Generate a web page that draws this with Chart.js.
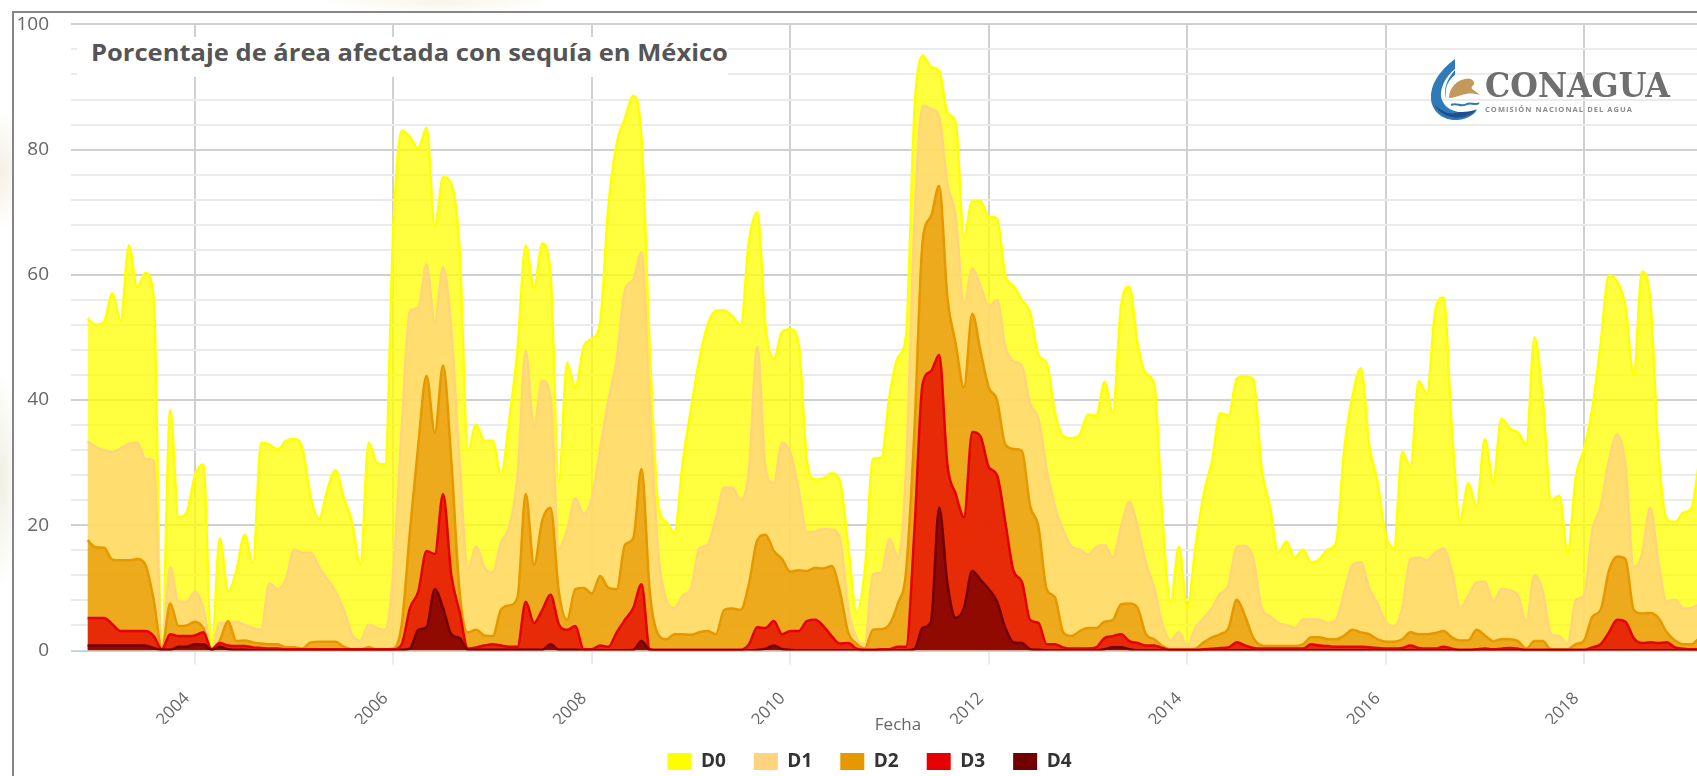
<!DOCTYPE html>
<html lang="es">
<head>
<meta charset="utf-8">
<title>Porcentaje de área afectada con sequía en México</title>
<script src="https://cdn.jsdelivr.net/npm/chart.js@4"></script>
<style>
  html, body { margin: 0; width: 1697px; height: 776px; overflow: hidden; background: #fff; }
  #fondo { position: absolute; inset: 0; background:
    radial-gradient(ellipse 30px 60px at 0 170px, #f3f0e4 0, #fff0 100%),
    radial-gradient(ellipse 24px 110px at 0 480px, #f0efe4 0, #fff0 100%),
    radial-gradient(ellipse 120px 12px at 440px 2px, #f8f5ea 0, #fff0 100%); }
  #marco { position: absolute; left: 12px; top: 11px; width: 1800px; height: 900px; border: 2px solid #868686; background: #fff; }
  #grafica { position: absolute; left: 14px; top: 13px; }
  #titulo { position: absolute; left: 77px; top: 37px; width: 651px; height: 40px; background: #fff; overflow: hidden; }
  #titulo span { display: inline-block; transform: scaleX(1.135); transform-origin: 14px 0; padding-left: 14px;
    font: bold 22.5px/32px "Open Sans", sans-serif; color: #555; white-space: nowrap; }
  #logo { position: absolute; left: 1425px; top: 55px; }
</style>
</head>
<body>
<div id="fondo"></div>
<div id="marco"></div>
<canvas id="grafica" width="1730" height="780"></canvas>
<div id="titulo"><span>Porcentaje de área afectada con sequía en México</span></div>
<svg id="logo" width="260" height="70" viewBox="0 0 260 70">
  <path d="M30 4 C14 16 5 30 6 44 C7 58 20 66 33 65 C42 64 49 60 52 55 C40 60 22 58 17 45 C13 34 22 20 30 14 Z" fill="#2f7ab8"/>
  <path d="M30 15 C22 24 18 34 21 44 C19 30 25 24 30 20 Z" fill="#2f7ab8"/>
  <path d="M10 50 C16 64 40 68 52 54 C44 58 36 56 30 58 C24 60 16 56 10 50 Z" fill="#1f4f8f"/>
  <path d="M24 43 C24 32 33 25 40 24 C45 22 50 26 49 29 C48 31 46 31 47 34 C50 36 53 38 55 40 C49 38 42 38 37 40 C32 41 28 43 24 43 Z" fill="#c4975a"/>
  <path d="M26 50 C32 47 36 53 42 49 C46 47 50 51 54 48" stroke="#2f7ab8" stroke-width="2" fill="none"/>
  <text x="60" y="42" font-family="'DejaVu Serif', serif" font-weight="bold" font-size="34" fill="#6f6f6f" textLength="185" lengthAdjust="spacingAndGlyphs">CONAGUA</text>
  <text x="60" y="57" font-family="'Open Sans', sans-serif" font-weight="bold" font-size="7.5" fill="#8a8a8a" textLength="147">COMISIÓN NACIONAL DEL AGUA</text>
</svg>
<script>
const MES0 = 2002 + 11 / 12;
const anos = [2004, 2006, 2008, 2010, 2012, 2014, 2016, 2018];
const ticksY = [0, 20, 40, 60, 80, 100];
const categorias = ['D0', 'D1', 'D2', 'D3', 'D4'];
const lineas = ['#ffff00', '#ffd37f', '#e69800', '#e60000', '#730000'];
const rellenos = ['rgba(255,255,0,0.75)', 'rgba(255,211,127,0.75)', 'rgba(230,152,0,0.75)', 'rgba(230,0,0,0.75)', 'rgba(115,0,0,0.75)'];

const d0 = [
  53, 52, 52.5, 57, 52.7, 64.7, 58, 60.3, 56.3, 0.3,
  38.4, 21.3, 22.1, 28, 29.7, 0.3, 17.9, 9.4, 12.7, 18.5,
  14, 33.2, 32.9, 32.1, 33.5, 33.8, 32.2, 24.4, 21, 25.7,
  28.8, 24.4, 20.5, 13.7, 33.2, 30, 29.7, 68, 83, 82,
  80.2, 83.5, 67.7, 75.6, 74.5, 64, 31.9, 36.1, 33.5, 33.5,
  28, 36.8, 48, 64.7, 57.9, 65, 60, 27, 45.9, 42,
  48.5, 49.8, 52.4, 71, 81, 85, 88.6, 81.7, 48, 23.7,
  20.5, 18.9, 30.3, 38.7, 46.5, 52, 54.3, 54.3, 53.4, 52,
  65.4, 70, 51.7, 46.6, 50.9, 51.3, 49, 30.3, 27.3, 27.5,
  28.3, 27, 16.6, 6.2, 12.7, 30.6, 30.8, 40.7, 46.8, 50.4,
  86, 95, 93.2, 92.6, 85.9, 84.3, 66, 71.8, 71.8, 69.3,
  69, 59.9, 58.2, 56, 54, 47.2, 45.9, 38, 34.2, 33.9,
  34.5, 37.7, 37.5, 42.9, 38, 55, 58.1, 49, 44.2, 42.6,
  21, 7.8, 16.6, 6.8, 16.6, 25, 30.3, 37.9, 37.5, 43.4,
  43.8, 43.3, 29, 23, 15.6, 17.4, 14.8, 16.1, 14, 14.6,
  16.1, 17.2, 32.2, 40.7, 45.1, 32.9, 27, 18.5, 16.3, 31.7,
  29.3, 43, 41, 54.3, 56.4, 35.5, 20.8, 26.7, 23, 33.8,
  27, 37, 35.5, 34.8, 32.9, 50, 40, 24, 24.7, 15.6,
  27.7, 32.2, 38.7, 49, 59.9, 58.9, 55, 43.9, 60.5, 56,
  31.5, 21, 20.5, 22, 22.8, 31,
];
const d1 = [
  33.4, 32.5, 32, 31.7, 32.3, 33, 33.2, 30.6, 30.3, 0.3,
  13.3, 7.8, 7.8, 9.4, 6.8, 0.2, 4.4, 4.4, 4.6, 4.1,
  3.6, 3.3, 10.7, 9.8, 11.4, 16.1, 15.6, 15.6, 13.3, 11.4,
  9.4, 6.5, 2.5, 1.6, 4.1, 3.6, 3.3, 12.7, 35.5, 54.2,
  54.7, 61.7, 52.4, 61.2, 51, 30, 13, 16.6, 13.3, 12.4,
  17.2, 19.8, 27.7, 47.8, 35.8, 43.1, 40.3, 16.3, 19.2, 24.3,
  21.8, 24.4, 32.2, 40, 46.5, 57.6, 59.2, 63.6, 38.7, 16,
  8.1, 6.8, 8.8, 10, 16.3, 16.9, 21.1, 26, 26, 24,
  29, 48.5, 29, 26.7, 33.2, 31.6, 25.7, 18.9, 19, 19.4,
  19.3, 17.9, 6.8, 2, 1, 12.2, 12.4, 17.8, 15, 29,
  68, 87, 86.5, 85.2, 74.5, 69.3, 55.3, 61, 58.2, 55,
  56, 48.5, 46.2, 45.5, 39.4, 37, 29, 23, 19.2, 16.6,
  16.1, 15.3, 16.5, 16.9, 14.8, 19.8, 23.7, 19.8, 14, 10,
  4.2, 1.6, 2.9, 0.7, 3.6, 5.2, 6.8, 9.1, 10.4, 16.6,
  16.7, 14.6, 6.8, 5.5, 4.4, 4, 3.6, 4.9, 5, 4.9,
  4.4, 4.9, 9.4, 13.7, 14.1, 10, 7.5, 4.6, 3.9, 6.7,
  14.6, 14.8, 14.4, 15.6, 16.3, 12.7, 6.8, 8.7, 10.9, 11,
  7.8, 9.8, 9.6, 8.8, 4.6, 12, 9.4, 2.6, 2.3, 1,
  8.1, 8.8, 19.2, 23, 30.3, 34.5, 29.6, 13.3, 15.3, 22.8,
  14, 7.8, 8.1, 6.7, 6.8, 7.5,
];
const d2 = [
  17.6, 16.5, 16.4, 14.5, 14.4, 14.4, 14.6, 13.7, 8.1, 0.3,
  7.5, 3.9, 4, 4.6, 3.6, 0.2, 1.6, 4.7, 1.5, 1.6,
  1.3, 1.1, 1, 1, 0.5, 0.5, 0.3, 1.3, 1.4, 1.4,
  1.4, 0.6, 0.2, 0.2, 0.5, 0.2, 0.2, 0.3, 4.2, 19.2,
  32.9, 43.9, 34.8, 45.5, 30.3, 9.4, 2.9, 3.3, 2.4, 2.3,
  6.5, 7.2, 8.5, 25, 13.7, 20.8, 22.8, 9.4, 4.9, 9.8,
  10, 9.1, 11.9, 10, 9.8, 16.9, 17.9, 29, 9.4, 2.6,
  1.8, 2.6, 2.6, 2.5, 2.9, 3.1, 2.6, 6.5, 6.7, 6.5,
  10.7, 17.6, 18.5, 15.9, 14.6, 12.6, 12.8, 12.7, 13.2, 13.1,
  13.5, 9.4, 2.9, 1.1, 0.3, 3.3, 3.4, 4.2, 7.5, 12.7,
  35, 65.4, 69.3, 74.2, 56.3, 49, 42, 53.8, 47.8, 42,
  40, 32.9, 32.2, 31.9, 23.1, 19.8, 9.8, 8.5, 2.9, 2.3,
  3.1, 3.6, 3.6, 4.6, 4.9, 7.4, 7.5, 6.8, 2.6, 1.8,
  0.7, 0.2, 0.2, 0.2, 0.3, 1.3, 2.1, 2.6, 3.6, 8.1,
  5.5, 2, 0.8, 0.7, 0.7, 0.7, 0.7, 1, 2.1, 2.1,
  1.8, 1.8, 2.4, 3.3, 2.9, 2.6, 1.8, 1.4, 1.4, 1.8,
  2.9, 2.6, 2.6, 2.8, 3.1, 2.1, 1.6, 1.6, 3.3, 2.4,
  1.5, 1.8, 1.8, 1.5, 0.3, 1.5, 1.5, 0.2, 0.2, 0.2,
  1, 1.6, 5.4, 6.5, 12.7, 15, 14.6, 6.5, 5.9, 6,
  5.2, 2.9, 1.6, 1, 1, 2.1,
];
const d3 = [
  5.2, 5.2, 5.2, 4.2, 3.1, 3.1, 3.1, 3.1, 2.3, 0.2,
  2.6, 2.3, 2.3, 2.4, 2.9, 0.2, 1.2, 0.8, 0.7, 0.7,
  0.5, 0.4, 0.3, 0.3, 0.2, 0.2, 0.2, 0.2, 0.2, 0.2,
  0.2, 0.2, 0.2, 0.2, 0.2, 0.2, 0.2, 0.2, 1, 6.8,
  9.4, 15.9, 15.4, 25, 12, 6.2, 0.3, 0.5, 0.8, 1,
  0.8, 0.6, 0.6, 7.8, 4.4, 6.5, 8.9, 4.2, 3.3, 3.9,
  0.2, 0.2, 0.8, 0.6, 2.9, 4.9, 6.8, 10.6, 0.2, 0.1,
  0.1, 0.1, 0.1, 0.1, 0.1, 0.1, 0.1, 0.1, 0.1, 0.1,
  1, 3.7, 3.6, 4.7, 2.6, 3.1, 3.1, 4.7, 4.9, 3.9,
  2.3, 1.1, 1.2, 0.3, 0.1, 0.1, 0.2, 0.2, 0.6, 0.6,
  19, 42.6, 44.6, 47.2, 29.6, 25, 21.3, 34.9, 34.2, 29.3,
  28, 20.5, 12.7, 11, 4.9, 4.4, 1, 1, 0.5, 0.3,
  0.3, 0.3, 0.5, 2, 2.3, 2.6, 1.5, 1.2, 0.8, 0.8,
  0.4, 0.1, 0.1, 0.1, 0.1, 0.2, 0.3, 0.4, 0.5, 1.3,
  0.8, 0.4, 0.3, 0.3, 0.3, 0.3, 0.3, 0.3, 1, 0.8,
  0.7, 0.6, 0.6, 0.6, 0.6, 0.5, 0.4, 0.3, 0.3, 0.4,
  0.8, 0.4, 0.3, 0.3, 0.6, 0.3, 0.1, 0.1, 0.2, 0.3,
  0.2, 0.3, 0.4, 0.3, 0.1, 0.1, 0.1, 0.1, 0.1, 0.1,
  0.1, 0.1, 0.5, 1, 2.9, 4.9, 4.6, 2, 1.2, 1.3,
  1.2, 1.3, 0.5, 0.3, 0.2, 0.2,
];
const d4 = [
  0.8, 0.8, 0.8, 0.8, 0.8, 0.8, 0.8, 0.8, 0.4, 0.1,
  0.1, 0.6, 0.6, 1, 1, 0.1, 0.6, 0.2, 0.1, 0.1,
  0.05, 0.05, 0.05, 0.05, 0.05, 0.05, 0.05, 0.05, 0.05, 0.05,
  0.05, 0.05, 0.05, 0.05, 0.05, 0.05, 0.05, 0.05, 0.1, 0.3,
  3.3, 3.7, 9.8, 6.8, 2.6, 2, 0.1, 0.1, 0.1, 0.1,
  0.1, 0.1, 0.1, 0.1, 0.1, 0.1, 1, 0.1, 0.1, 0.1,
  0.05, 0.05, 0.05, 0.05, 0.05, 0.05, 0.1, 1.5, 0.1, 0.05,
  0.05, 0.05, 0.05, 0.05, 0.05, 0.05, 0.05, 0.05, 0.05, 0.05,
  0.05, 0.1, 0.3, 0.8, 0.2, 0.1, 0.05, 0.05, 0.05, 0.05,
  0.05, 0.05, 0.05, 0.05, 0.05, 0.05, 0.05, 0.05, 0.05, 0.05,
  0.2, 3.6, 4.6, 22.8, 10.7, 5.2, 6.8, 12.7, 11.3, 9.8,
  7.8, 3.6, 1.3, 1.2, 0.2, 0.1, 0.05, 0.05, 0.05, 0.05,
  0.05, 0.05, 0.05, 0.2, 0.5, 0.5, 0.2, 0.05, 0.05, 0.05,
  0.05, 0.05, 0.05, 0.05, 0.05, 0.05, 0.05, 0.05, 0.05, 0.05,
  0.05, 0.05, 0.05, 0.05, 0.05, 0.05, 0.05, 0.05, 0.05, 0.05,
  0.05, 0.05, 0.05, 0.05, 0.05, 0.05, 0.05, 0.05, 0.05, 0.05,
  0.05, 0.05, 0.05, 0.05, 0.05, 0.05, 0.05, 0.05, 0.05, 0.05,
  0.05, 0.05, 0.05, 0.05, 0.05, 0.05, 0.05, 0.05, 0.05, 0.05,
  0.05, 0.05, 0.05, 0.05, 0.05, 0.05, 0.05, 0.05, 0.05, 0.05,
  0.05, 0.05, 0.05, 0.05, 0.05, 0.05,
];

const series = [d0, d1, d2, d3, d4];
const fecha = (i) => MES0 + i / 12;

const esMayor = (v) => ticksY.includes(v);

new Chart(document.getElementById('grafica'), {
  type: 'line',
  data: {
    datasets: series.map((valores, k) => ({
      label: categorias[k],
      data: valores.map((y, i) => ({ x: fecha(i), y })),
      borderColor: lineas[k],
      backgroundColor: rellenos[k],
      borderWidth: 2.5,
      pointRadius: 0,
      fill: 'origin',
      cubicInterpolationMode: 'monotone',
      order: series.length - k,
    })),
  },
  options: {
    responsive: false,
    animation: false,
    layout: { autoPadding: false, padding: { top: 11, right: 19, bottom: 12, left: 0 } },
    plugins: {
      title: { display: false },
      tooltip: { enabled: false },
      legend: {
        position: 'bottom',
        labels: {
          boxWidth: 24,
          boxHeight: 17,
          padding: 28,
          color: '#333',
          font: { family: '"Open Sans"', size: 19, weight: 'bold' },
          generateLabels: () => categorias.map((text, k) => ({
            text,
            fillStyle: lineas[k],
            strokeStyle: lineas[k],
            lineWidth: 0,
            fontColor: '#333',
            datasetIndex: k,
          })),
        },
      },
    },
    scales: {
      x: {
        type: 'linear',
        min: 2002.75,
        max: 2019.42,
        afterBuildTicks: (scale) => {
          scale.ticks = anos.map((value) => ({ value }));
        },
        afterFit: (scale) => {
          scale.height = 73.5;
        },
        grid: {
          color: '#d0d0d0',
          lineWidth: 2,
          drawTicks: true,
          tickLength: 14,
          tickColor: '#ccd6eb',
          tickWidth: 1,
        },
        border: { color: '#ccd6eb', width: 1 },
        ticks: {
          autoSkip: false,
          minRotation: 45,
          maxRotation: 45,
          color: '#666',
          font: { family: '"Open Sans"', size: 17 },
          padding: 24,
          labelOffset: -8,
          callback: (v) => String(v),
        },
        title: {
          display: true,
          text: 'Fecha',
          color: '#666',
          font: { family: '"Open Sans"', size: 17 },
          padding: { top: 0, bottom: -11 },
        },
      },
      y: {
        min: 0,
        max: 100,
        afterBuildTicks: (scale) => {
          const marcas = [];
          for (let v = 0; v <= 100; v += 4) marcas.push({ value: v });
          scale.ticks = marcas;
        },
        afterFit: (scale) => {
          scale.width = 57;
        },
        grid: {
          color: (c) => (esMayor(c.tick.value) ? '#d0d0d0' : '#ebebeb'),
          lineWidth: 2,
          drawTicks: true,
          tickLength: 22,
          tickColor: 'rgba(0,0,0,0)',
        },
        border: { display: false },
        ticks: {
          autoSkip: false,
          color: '#666',
          padding: 0,
          font: { family: '"Open Sans"', size: 19 },
          callback: (v) => (esMayor(v) ? String(v) : ''),
        },
      },
    },
  },
});
</script>
</body>
</html>
